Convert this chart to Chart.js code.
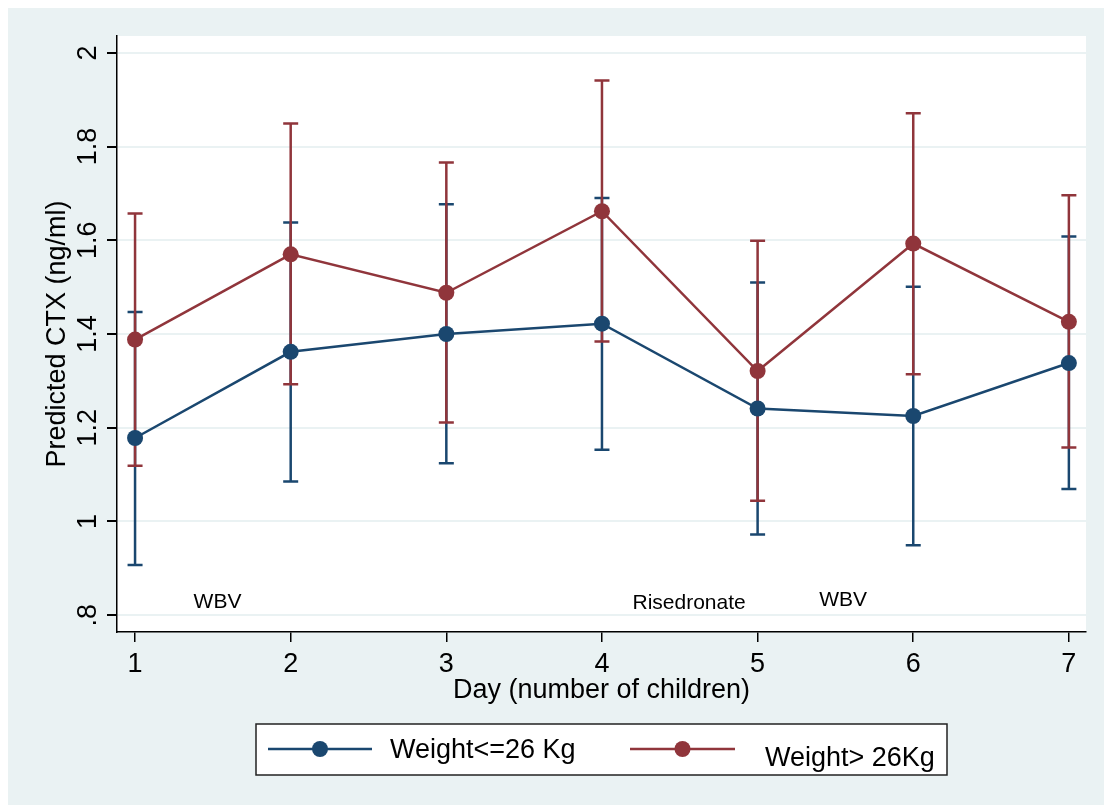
<!DOCTYPE html>
<html>
<head>
<meta charset="utf-8">
<script src="https://cdn.jsdelivr.net/npm/chart.js@4.4.1/dist/chart.umd.min.js"></script>
<style>
  html, body { margin: 0; padding: 0; background: #fff; }
  #wrap { width: 1104px; height: 805px; }
</style>
</head>
<body>
<div id="wrap"><canvas id="grafico" width="1104" height="805"></canvas></div>
<script>
// Datos
const dias = [1, 2, 3, 4, 5, 6, 7];
const yTicks = [0.8, 1, 1.2, 1.4, 1.6, 1.8, 2];

const ligeroMedia = [1.178, 1.362, 1.400, 1.422, 1.241, 1.225, 1.338];
const ligeroSup   = [1.447, 1.638, 1.677, 1.690, 1.510, 1.501, 1.608];
const ligeroInf   = [0.907, 1.085, 1.124, 1.153, 0.972, 0.949, 1.069];

const pesadoMedia = [1.388, 1.570, 1.488, 1.662, 1.321, 1.593, 1.426];
const pesadoSup   = [1.657, 1.849, 1.766, 1.941, 1.599, 1.871, 1.696];
const pesadoInf   = [1.119, 1.293, 1.211, 1.384, 1.044, 1.314, 1.158];

const anotaciones = [
  { texto: 'WBV', x: 1.53, y: 0.828 },
  { texto: 'Risedronate', x: 4.56, y: 0.826 },
  { texto: 'WBV', x: 5.55, y: 0.831 }
];

const AZUL = '#1a476f';
const ROJO = '#90353b';
const FONDO = '#eaf2f3';
const FUENTE = '"Liberation Sans", Arial, sans-serif';

const series = [
  { label: 'Weight<=26 Kg', color: AZUL, media: ligeroMedia, sup: ligeroSup, inf: ligeroInf },
  { label: 'Weight> 26Kg', color: ROJO, media: pesadoMedia, sup: pesadoSup, inf: pesadoInf }
];

// Fondo exterior y región del gráfico
const fondoPlugin = {
  id: 'fondo',
  beforeDraw(chart) {
    const ctx = chart.ctx, a = chart.chartArea;
    ctx.save();
    ctx.fillStyle = '#fff';
    ctx.fillRect(0, 0, chart.width, chart.height);
    ctx.fillStyle = FONDO;
    ctx.fillRect(8, 8, chart.width - 8, chart.height - 8);
    ctx.fillStyle = '#fff';
    ctx.fillRect(a.left, a.top, a.right - a.left, a.bottom - a.top);
    ctx.restore();
  }
};

// Barras de error (intervalos) dibujadas con las escalas
const erroresPlugin = {
  id: 'errores',
  beforeDatasetsDraw(chart) {
    const ctx = chart.ctx, xs = chart.scales.x, ys = chart.scales.y;
    ctx.save();
    ctx.lineWidth = 2.5;
    series.forEach(s => {
      ctx.strokeStyle = s.color;
      dias.forEach((d, i) => {
        const px = xs.getPixelForValue(d);
        const y1 = ys.getPixelForValue(s.sup[i]);
        const y2 = ys.getPixelForValue(s.inf[i]);
        ctx.beginPath();
        ctx.moveTo(px, y1); ctx.lineTo(px, y2);
        ctx.moveTo(px - 7.5, y1); ctx.lineTo(px + 7.5, y1);
        ctx.moveTo(px - 7.5, y2); ctx.lineTo(px + 7.5, y2);
        ctx.stroke();
      });
    });
    ctx.restore();
  }
};

// Etiquetas del eje Y giradas, títulos, anotaciones y leyenda
const textosPlugin = {
  id: 'textos',
  afterDraw(chart) {
    const ctx = chart.ctx, xs = chart.scales.x, ys = chart.scales.y, a = chart.chartArea;
    ctx.save();
    ctx.fillStyle = '#000';
    ctx.textAlign = 'center';
    ctx.textBaseline = 'middle';

    ctx.font = '27px ' + FUENTE;
    yTicks.forEach(v => {
      const py = ys.getPixelForValue(v);
      ctx.save();
      ctx.translate(89, py);
      ctx.rotate(-Math.PI / 2);
      ctx.fillText(v === 1 || v === 2 ? String(v) : (v < 1 ? '.8' : v.toFixed(1)), 0, 0);
      ctx.restore();
    });

    ctx.save();
    ctx.font = '27px ' + FUENTE;
    ctx.translate(58, (a.top + a.bottom) / 2);
    ctx.rotate(-Math.PI / 2);
    ctx.fillText('Predicted CTX (ng/ml)', 0, 0);
    ctx.restore();

    ctx.font = '27px ' + FUENTE;
    ctx.fillText('Day (number of children)', (a.left + a.right) / 2, 691);

    ctx.font = '21px ' + FUENTE;
    anotaciones.forEach(t => {
      ctx.fillText(t.texto, xs.getPixelForValue(t.x), ys.getPixelForValue(t.y));
    });

    // Leyenda
    ctx.fillStyle = '#fff';
    ctx.fillRect(256, 724, 691, 51);
    ctx.strokeStyle = '#222';
    ctx.lineWidth = 1.5;
    ctx.strokeRect(256, 724, 691, 51);

    const entradas = [
      { s: series[0], x0: 268, x1: 372, tx: 390, ty: 751 },
      { s: series[1], x0: 630, x1: 735, tx: 765, ty: 759 }
    ];
    entradas.forEach(e => {
      ctx.strokeStyle = e.s.color;
      ctx.lineWidth = 2.5;
      ctx.beginPath();
      ctx.moveTo(e.x0, 749); ctx.lineTo(e.x1, 749);
      ctx.stroke();
      ctx.fillStyle = e.s.color;
      ctx.beginPath();
      ctx.arc((e.x0 + e.x1) / 2, 749, 8, 0, Math.PI * 2);
      ctx.fill();
      ctx.fillStyle = '#000';
      ctx.textAlign = 'left';
      ctx.font = '27px ' + FUENTE;
      ctx.fillText(e.s.label, e.tx, e.ty);
    });
    ctx.restore();
  }
};

document.addEventListener('DOMContentLoaded', function() {
  const ctx = document.getElementById('grafico').getContext('2d');
  const datasets = series.map(s => ({
    label: s.label,
    data: dias.map((d, i) => ({ x: d, y: s.media[i] })),
    borderColor: s.color,
    backgroundColor: s.color,
    pointBackgroundColor: s.color,
    pointBorderColor: s.color,
    pointRadius: 8,
    pointBorderWidth: 0,
    borderWidth: 2.5,
    tension: 0
  }));

  new Chart(ctx, {
    type: 'line',
    data: { datasets: datasets },
    options: {
      responsive: false,
      animation: false,
      events: [],
      layout: { padding: { left: 0, top: 36, right: 18, bottom: 0 } },
      plugins: { legend: { display: false }, tooltip: { enabled: false } },
      scales: {
        x: {
          type: 'linear', min: 0.884, max: 7.11,
          afterBuildTicks: sc => { sc.ticks = dias.map(v => ({ value: v })); },
          afterFit: sc => { sc.height = 805 - 632; },
          grid: { drawOnChartArea: false, tickLength: 10, tickColor: '#000', lineWidth: 1.5 },
          border: { color: '#000', width: 1.5 },
          ticks: { color: '#000', font: { family: FUENTE, size: 27 }, padding: 6, maxRotation: 0 }
        },
        y: {
          type: 'linear', min: 0.764, max: 2.036,
          afterBuildTicks: sc => { sc.ticks = yTicks.map(v => ({ value: v })); },
          afterFit: sc => { sc.width = 117; },
          grid: { color: FONDO, lineWidth: 2, tickLength: 10, tickColor: '#000' },
          border: { color: '#000', width: 1.5 },
          ticks: { display: false }
        }
      }
    },
    plugins: [fondoPlugin, erroresPlugin, textosPlugin]
  });
});
</script>
</body>
</html>
